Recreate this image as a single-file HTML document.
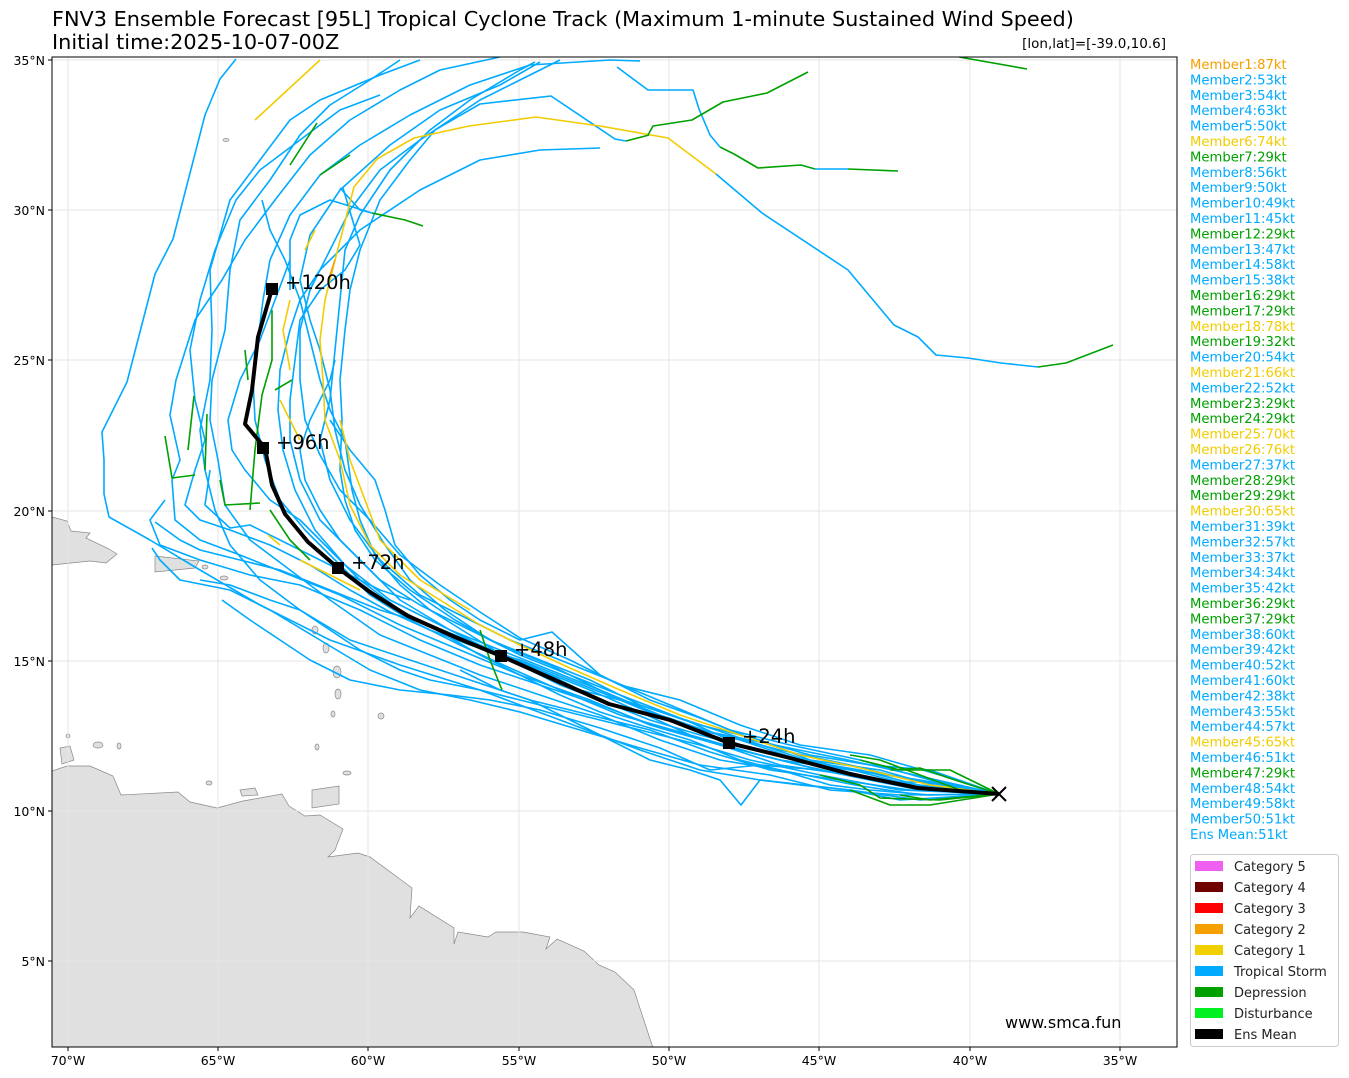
<!DOCTYPE html>
<html><head><meta charset="utf-8"><style>
html,body{margin:0;padding:0;background:#fff;}
svg{display:block;font-family:"DejaVu Sans","Liberation Sans",sans-serif;}
</style></head><body>
<svg width="1349" height="1078" viewBox="0 0 1349 1078" xmlns="http://www.w3.org/2000/svg">
<rect width="1349" height="1078" fill="#fff"/>
<text x="52" y="26" font-size="20.8" fill="#000">FNV3 Ensemble Forecast [95L] Tropical Cyclone Track (Maximum 1-minute Sustained Wind Speed)</text>
<text x="52" y="49" font-size="20.8" fill="#000">Initial time:2025-10-07-00Z</text>
<text x="1166" y="48" font-size="13.5" text-anchor="end" fill="#000">[lon,lat]=[-39.0,10.6]</text>
<defs><clipPath id="c"><rect x="52" y="57" width="1125" height="990"/></clipPath></defs>
<g clip-path="url(#c)">
<g fill="#e0e0e0" stroke="#888" stroke-width="0.7">
<path d="M40,771 L52,771 67,766 90,766 113,776 121,795 178,792 190,802 217,808 243,801 282,794 289,806 305,816 320,815 343,829 335,850 328,857 358,853 370,857 412,888 410,918 419,906 454,928 454,944 458,932 488,937 496,932 523,932 550,937 546,949 557,939 584,951 599,965 615,972 634,990 652,1045 660,1060 40,1060 Z"/>
<path d="M40,517 L52,517 67,521 71,531 90,533 86,538 109,549 117,554 106,563 90,561 52,565 40,565 Z"/>
<path d="M155,556 L199,561 195,568 155,572 Z"/>
<path d="M312,790 L339,786 339,804 312,808 Z"/>
<path d="M60,748 L70,746 74,760 62,764 Z"/>
<path d="M240,790 L255,788 258,795 242,796 Z"/>
<ellipse cx="337" cy="672" rx="4" ry="6"/><ellipse cx="338" cy="694" rx="3" ry="5"/><ellipse cx="326" cy="648" rx="3" ry="5"/><ellipse cx="315" cy="630" rx="3" ry="4"/>
<ellipse cx="333" cy="714" rx="2" ry="3"/><ellipse cx="381" cy="716" rx="3" ry="3"/><ellipse cx="317" cy="747" rx="2" ry="3"/><ellipse cx="347" cy="773" rx="4" ry="2"/>
<ellipse cx="98" cy="745" rx="5" ry="3"/><ellipse cx="119" cy="746" rx="2" ry="3"/><ellipse cx="68" cy="736" rx="2" ry="2"/><ellipse cx="209" cy="783" rx="3" ry="2"/>
<ellipse cx="224" cy="578" rx="4" ry="2"/><ellipse cx="205" cy="567" rx="3" ry="2"/><ellipse cx="226" cy="140" rx="3" ry="1.5"/>
</g>
<g stroke="#e6e6e6" stroke-width="1">
<line x1="68" y1="57" x2="68" y2="1047"/><line x1="218" y1="57" x2="218" y2="1047"/><line x1="368" y1="57" x2="368" y2="1047"/><line x1="519" y1="57" x2="519" y2="1047"/><line x1="669" y1="57" x2="669" y2="1047"/><line x1="819" y1="57" x2="819" y2="1047"/><line x1="970" y1="57" x2="970" y2="1047"/><line x1="1120" y1="57" x2="1120" y2="1047"/>
<line x1="52" y1="60" x2="1177" y2="60"/><line x1="52" y1="210" x2="1177" y2="210"/><line x1="52" y1="360" x2="1177" y2="360"/><line x1="52" y1="511" x2="1177" y2="511"/><line x1="52" y1="661" x2="1177" y2="661"/><line x1="52" y1="811" x2="1177" y2="811"/><line x1="52" y1="961" x2="1177" y2="961"/>
</g>
<g fill="none" stroke-width="1.6" stroke-linejoin="round">
<g stroke="#00aaff">
<polyline points="999,794 930,780 860,760 790,745 730,730 670,705 610,680 560,660 510,640 470,620 420,595 380,560 350,520 330,480 320,440 330,400 335,350 340,300 345,250 360,215 390,170 430,130 470,100 520,70 535,62"/>
<polyline points="999,794 920,795 855,785 780,770 720,760 660,740 600,715 540,695 480,675 430,655 380,635 330,600 290,570 250,540 225,505 218,460 210,420 212,380 225,330 230,270 240,220 270,180 300,135 330,105 370,80 400,60"/>
<polyline points="999,794 920,800 850,790 760,780 700,770 640,750 560,720 480,690 400,665 330,640 260,605 200,570 150,540 109,517 104,494 104,460 102,432 127,382 155,274 173,239 205,115 220,79 236,59"/>
<polyline points="999,794 940,775 870,755 800,745 740,725 680,700 620,685 570,660 520,638 480,612 440,585 400,555 370,520 340,490 320,455 305,420 300,380 300,330 310,290 330,250 350,210 380,170 420,140 480,100 520,80 560,60"/>
<polyline points="999,794 910,790 840,780 770,770 710,752 650,730 590,715 530,700 470,680 410,660 350,640 300,610 260,580 230,545 215,510 205,470 200,430 210,380 212,330 210,270 230,200 260,160 290,120 320,100 380,75 420,60"/>
<polyline points="999,794 900,785 820,770 760,755 690,735 640,712 590,690 540,670 490,650 440,625 390,600 345,565 315,530 295,490 283,450 278,410 280,370 290,330 300,300 320,270 360,230 420,190 480,160 540,150 600,148"/>
<polyline points="999,794 930,788 860,770 800,760 740,745 690,722 640,705 590,680 540,660 490,640 445,610 410,580 385,545 360,505 345,470 335,430 330,390 320,350 310,320 300,280 310,235 340,190 390,145 440,110 500,85 540,62"/>
<polyline points="999,794 910,780 850,765 780,750 710,732 660,715 600,690 550,665 500,645 455,620 410,590 375,560 355,530 345,500 340,470 342,420 340,380 345,330 350,290 360,250 380,200 410,160 435,130 480,104 551,96 615,139 626,141"/>
<polyline points="999,794 920,780 850,770 780,760 720,745 650,725 590,700 520,675 460,650 400,625 340,595 290,575 240,555 200,540 175,520 172,480 180,460 170,415 176,380 195,320 222,280 245,240 275,200 310,155 350,120 400,90 440,70 500,57"/>
<polyline points="999,794 950,790 880,770 810,760 760,740 700,725 640,705 580,690 530,665 480,645 430,625 380,610 330,590 280,570 240,560 200,550 180,540 155,522"/>
<polyline points="999,794 920,785 850,775 780,765 720,745 660,728 600,705 540,685 480,665 420,640 360,610 300,585 250,575 200,560 160,545 150,520 165,500"/>
<polyline points="999,794 900,795 830,790 770,775 700,765 640,748 580,730 520,712 470,700 420,690 370,670 320,640 270,610 230,590 180,580 160,560 152,548"/>
<polyline points="999,794 920,790 860,778 800,765 740,750 680,732 620,715 560,690 510,668 460,645 410,620 370,595 335,560 305,530 280,500 265,460 255,420 253,380 258,340 263,300 270,260 290,215 320,175 360,145 410,115 470,85 530,65 610,60 640,61"/>
<polyline points="999,794 930,790 860,772 800,758 740,738 680,718 620,695 570,675 520,655 470,630 420,605 380,580 350,550 320,520 300,480 290,440 290,400 295,360 300,320 320,290 345,270 360,245 343,188"/>
<polyline points="999,794 900,790 820,775 750,760 700,745 640,730 600,720 560,710 520,700 480,690 430,680 400,670 360,650 330,630 300,610 270,600 230,585 200,580"/>
<polyline points="999,794 890,775 820,765 760,750 700,735 650,720 600,700 560,685 510,660 470,635 430,610 400,585 375,555 360,520 352,490 345,440 330,410 320,380 310,340 300,300 285,260 270,230 262,200"/>
<polyline points="999,794 930,770 870,765 810,755 750,738 700,718 650,700 600,675 552,632 520,640 480,620 450,600 420,575 395,545 385,510 375,480 350,450 330,420"/>
<polyline points="999,794 940,782 880,782 820,770 760,765 710,770 660,748 600,728 540,710 490,700 450,695 400,690 350,680 310,660 280,640 250,620 222,600"/>
<polyline points="999,794 900,800 850,790 800,785 760,780 741,805 720,780 690,770 650,760 610,740 570,720 530,700 500,690 460,670"/>
<polyline points="999,794 930,795 870,790 830,785 780,770 740,760 690,740 640,725 600,712 560,695 520,675 480,655 440,632 400,610 360,580 330,550 300,520 270,500 245,470 232,450 228,420 240,380 260,340 275,300 290,260"/>
<polyline points="999,794 920,790 860,775 800,760 740,740 680,725 620,700 570,680 520,660 470,645 430,630 390,612 350,590 310,565 270,545 230,530 200,520 185,505 195,470 205,440 195,400 190,350 200,300 215,250 236,200 260,170 300,140 340,110 380,95"/>
<polyline points="999,794 848,760 750,740 700,730 650,712 600,690 550,670 500,650 450,630 400,600 370,570 340,540 320,510 305,480 300,450 310,420 320,400 330,380 335,360"/>
<polyline points="410,600 380,590 350,575 320,560 290,545 250,525 230,528 205,505 210,470"/>
<polyline points="617,67 648,90 693,90 699,109 710,135 720,147"/>
<polyline points="815,169 848,169"/>
<polyline points="762,213 848,270 894,325 918,337 936,355 968,358 1001,363 1038,367"/>
<polyline points="340,188 360,210 372,213 330,200 300,215 290,240 290,290"/>
</g>
<g stroke="#f2cc00">
<polyline points="999,794 930,785 860,768 800,755 740,735 680,715 620,690 570,668 520,645 480,625 440,600 400,575 370,545 350,505 340,460 325,420 323,380 320,340 325,300 335,260 354,187 377,159 414,138 469,126 536,117 600,126 668,138 716,174"/>
<polyline points="716,174 762,213" stroke="#00aaff"/>
<polyline points="255,120 320,60"/>
<polyline points="290,370 283,330 290,300"/>
<polyline points="305,250 315,230"/>
<polyline points="340,420 350,460 365,500 380,540 420,580 470,610"/>
<polyline points="280,400 290,420 300,440"/>
<polyline points="268,535 280,545"/>
<polyline points="300,560 330,575 360,590"/>
</g>
<g stroke="#00a000">
<polyline points="999,794 960,790 920,775 880,760 850,755"/>
<polyline points="999,794 940,800 880,798 860,785 820,775"/>
<polyline points="999,794 930,805 890,805 850,790"/>
<polyline points="999,794 950,770 900,770 860,760"/>
<polyline points="999,794 955,780 920,768 890,770"/>
<polyline points="999,794 930,800 900,795"/>
<polyline points="648,135 653,126 692,120 723,102 767,93 808,72"/>
<polyline points="720,147 734,154 758,168 801,165 815,169"/>
<polyline points="848,169 898,171"/>
<polyline points="1038,367 1066,363 1113,345"/>
<polyline points="959,57 1027,69"/>
<polyline points="626,141 649,135"/>
<polyline points="290,165 317,123"/>
<polyline points="320,175 350,155"/>
<polyline points="372,213 405,220 423,226"/>
<polyline points="272,310 272,360 262,395 255,450 250,510"/>
<polyline points="165,436 172,478 195,475"/>
<polyline points="194,396 188,450"/>
<polyline points="207,414 205,470"/>
<polyline points="220,480 225,505 260,503"/>
<polyline points="245,350 248,380"/>
<polyline points="292,380 275,390"/>
<polyline points="480,630 490,660 502,690"/>
<polyline points="270,510 290,540 310,560"/>
</g>
<g stroke="#f5a000"><polyline points="335,260 330,275"/></g>
</g>
<polyline fill="none" stroke="#000" stroke-width="4" stroke-linejoin="round" points="999,794 918,788 850,774 790,758 729,743 670,720 609,704 555,680 501,656 455,637 408,616 370,592 338,568 308,542 285,514 272,485 265,448 245,424 252,390 258,337 272,289"/>
<g fill="#000">
<rect x="723" y="737" width="12" height="12"/><rect x="495" y="650" width="12" height="12"/><rect x="332" y="562" width="12" height="12"/><rect x="257" y="442" width="12" height="12"/><rect x="266" y="283" width="12" height="12"/>
</g>
<g font-size="19.5" fill="#000">
<text x="742" y="743">+24h</text><text x="514" y="656">+48h</text><text x="351" y="569">+72h</text><text x="276" y="449">+96h</text><text x="285" y="289">+120h</text>
</g>
<path d="M992,787 L1006,801 M1006,787 L992,801" stroke="#000" stroke-width="2"/>
<text x="1005" y="1028" font-size="16" fill="#000">www.smca.fun</text>
</g>
<rect x="52" y="57" width="1125" height="990" fill="none" stroke="#000" stroke-width="1"/>
<g stroke="#000" stroke-width="1">
<line x1="68" y1="1047" x2="68" y2="1051"/><line x1="218" y1="1047" x2="218" y2="1051"/><line x1="368" y1="1047" x2="368" y2="1051"/><line x1="519" y1="1047" x2="519" y2="1051"/><line x1="669" y1="1047" x2="669" y2="1051"/><line x1="819" y1="1047" x2="819" y2="1051"/><line x1="970" y1="1047" x2="970" y2="1051"/><line x1="1120" y1="1047" x2="1120" y2="1051"/>
<line x1="48" y1="60" x2="52" y2="60"/><line x1="48" y1="210" x2="52" y2="210"/><line x1="48" y1="360" x2="52" y2="360"/><line x1="48" y1="511" x2="52" y2="511"/><line x1="48" y1="661" x2="52" y2="661"/><line x1="48" y1="811" x2="52" y2="811"/><line x1="48" y1="961" x2="52" y2="961"/>
</g>
<g font-size="12.5" fill="#000" text-anchor="middle">
<text x="68" y="1065">70°W</text><text x="218" y="1065">65°W</text><text x="368" y="1065">60°W</text><text x="519" y="1065">55°W</text><text x="669" y="1065">50°W</text><text x="819" y="1065">45°W</text><text x="970" y="1065">40°W</text><text x="1120" y="1065">35°W</text>
</g>
<g font-size="12.5" fill="#000" text-anchor="end">
<text x="45" y="65">35°N</text><text x="45" y="215">30°N</text><text x="45" y="365">25°N</text><text x="45" y="516">20°N</text><text x="45" y="666">15°N</text><text x="45" y="816">10°N</text><text x="45" y="966">5°N</text>
</g>
<g font-size="13.2">
<text x="1190" y="69" fill="#f5a000">Member1:87kt</text>
<text x="1190" y="84.4" fill="#00aaff">Member2:53kt</text>
<text x="1190" y="99.8" fill="#00aaff">Member3:54kt</text>
<text x="1190" y="115.2" fill="#00aaff">Member4:63kt</text>
<text x="1190" y="130.6" fill="#00aaff">Member5:50kt</text>
<text x="1190" y="146" fill="#f2cc00">Member6:74kt</text>
<text x="1190" y="161.4" fill="#00a000">Member7:29kt</text>
<text x="1190" y="176.8" fill="#00aaff">Member8:56kt</text>
<text x="1190" y="192.2" fill="#00aaff">Member9:50kt</text>
<text x="1190" y="207.6" fill="#00aaff">Member10:49kt</text>
<text x="1190" y="223" fill="#00aaff">Member11:45kt</text>
<text x="1190" y="238.4" fill="#00a000">Member12:29kt</text>
<text x="1190" y="253.8" fill="#00aaff">Member13:47kt</text>
<text x="1190" y="269.2" fill="#00aaff">Member14:58kt</text>
<text x="1190" y="284.6" fill="#00aaff">Member15:38kt</text>
<text x="1190" y="300" fill="#00a000">Member16:29kt</text>
<text x="1190" y="315.4" fill="#00a000">Member17:29kt</text>
<text x="1190" y="330.8" fill="#f2cc00">Member18:78kt</text>
<text x="1190" y="346.2" fill="#00a000">Member19:32kt</text>
<text x="1190" y="361.6" fill="#00aaff">Member20:54kt</text>
<text x="1190" y="377" fill="#f2cc00">Member21:66kt</text>
<text x="1190" y="392.4" fill="#00aaff">Member22:52kt</text>
<text x="1190" y="407.8" fill="#00a000">Member23:29kt</text>
<text x="1190" y="423.2" fill="#00a000">Member24:29kt</text>
<text x="1190" y="438.6" fill="#f2cc00">Member25:70kt</text>
<text x="1190" y="454" fill="#f2cc00">Member26:76kt</text>
<text x="1190" y="469.4" fill="#00aaff">Member27:37kt</text>
<text x="1190" y="484.8" fill="#00a000">Member28:29kt</text>
<text x="1190" y="500.2" fill="#00a000">Member29:29kt</text>
<text x="1190" y="515.6" fill="#f2cc00">Member30:65kt</text>
<text x="1190" y="531" fill="#00aaff">Member31:39kt</text>
<text x="1190" y="546.4" fill="#00aaff">Member32:57kt</text>
<text x="1190" y="561.8" fill="#00aaff">Member33:37kt</text>
<text x="1190" y="577.2" fill="#00aaff">Member34:34kt</text>
<text x="1190" y="592.6" fill="#00aaff">Member35:42kt</text>
<text x="1190" y="608" fill="#00a000">Member36:29kt</text>
<text x="1190" y="623.4" fill="#00a000">Member37:29kt</text>
<text x="1190" y="638.8" fill="#00aaff">Member38:60kt</text>
<text x="1190" y="654.2" fill="#00aaff">Member39:42kt</text>
<text x="1190" y="669.6" fill="#00aaff">Member40:52kt</text>
<text x="1190" y="685" fill="#00aaff">Member41:60kt</text>
<text x="1190" y="700.4" fill="#00aaff">Member42:38kt</text>
<text x="1190" y="715.8" fill="#00aaff">Member43:55kt</text>
<text x="1190" y="731.2" fill="#00aaff">Member44:57kt</text>
<text x="1190" y="746.6" fill="#f2cc00">Member45:65kt</text>
<text x="1190" y="762" fill="#00aaff">Member46:51kt</text>
<text x="1190" y="777.4" fill="#00a000">Member47:29kt</text>
<text x="1190" y="792.8" fill="#00aaff">Member48:54kt</text>
<text x="1190" y="808.2" fill="#00aaff">Member49:58kt</text>
<text x="1190" y="823.6" fill="#00aaff">Member50:51kt</text>
<text x="1190" y="839" fill="#00aaff">Ens Mean:51kt</text>
</g>
<rect x="1190.5" y="854.5" width="148" height="192" rx="3" fill="#fff" stroke="#ccc"/>
<g>
<rect x="1195" y="861" width="28" height="10" fill="#f060f0"/>
<rect x="1195" y="882" width="28" height="10" fill="#700000"/>
<rect x="1195" y="903" width="28" height="10" fill="#ff0000"/>
<rect x="1195" y="924" width="28" height="10" fill="#f5a000"/>
<rect x="1195" y="945" width="28" height="10" fill="#f2d000"/>
<rect x="1195" y="966" width="28" height="10" fill="#00aaff"/>
<rect x="1195" y="987" width="28" height="10" fill="#00a000"/>
<rect x="1195" y="1008" width="28" height="10" fill="#00f020"/>
<rect x="1195" y="1029" width="28" height="10" fill="#000"/>
</g>
<g font-size="13" fill="#222">
<text x="1234" y="871">Category 5</text><text x="1234" y="892">Category 4</text><text x="1234" y="913">Category 3</text><text x="1234" y="934">Category 2</text><text x="1234" y="955">Category 1</text><text x="1234" y="976">Tropical Storm</text><text x="1234" y="997">Depression</text><text x="1234" y="1018">Disturbance</text><text x="1234" y="1039">Ens Mean</text>
</g>
</svg>
</body></html>
